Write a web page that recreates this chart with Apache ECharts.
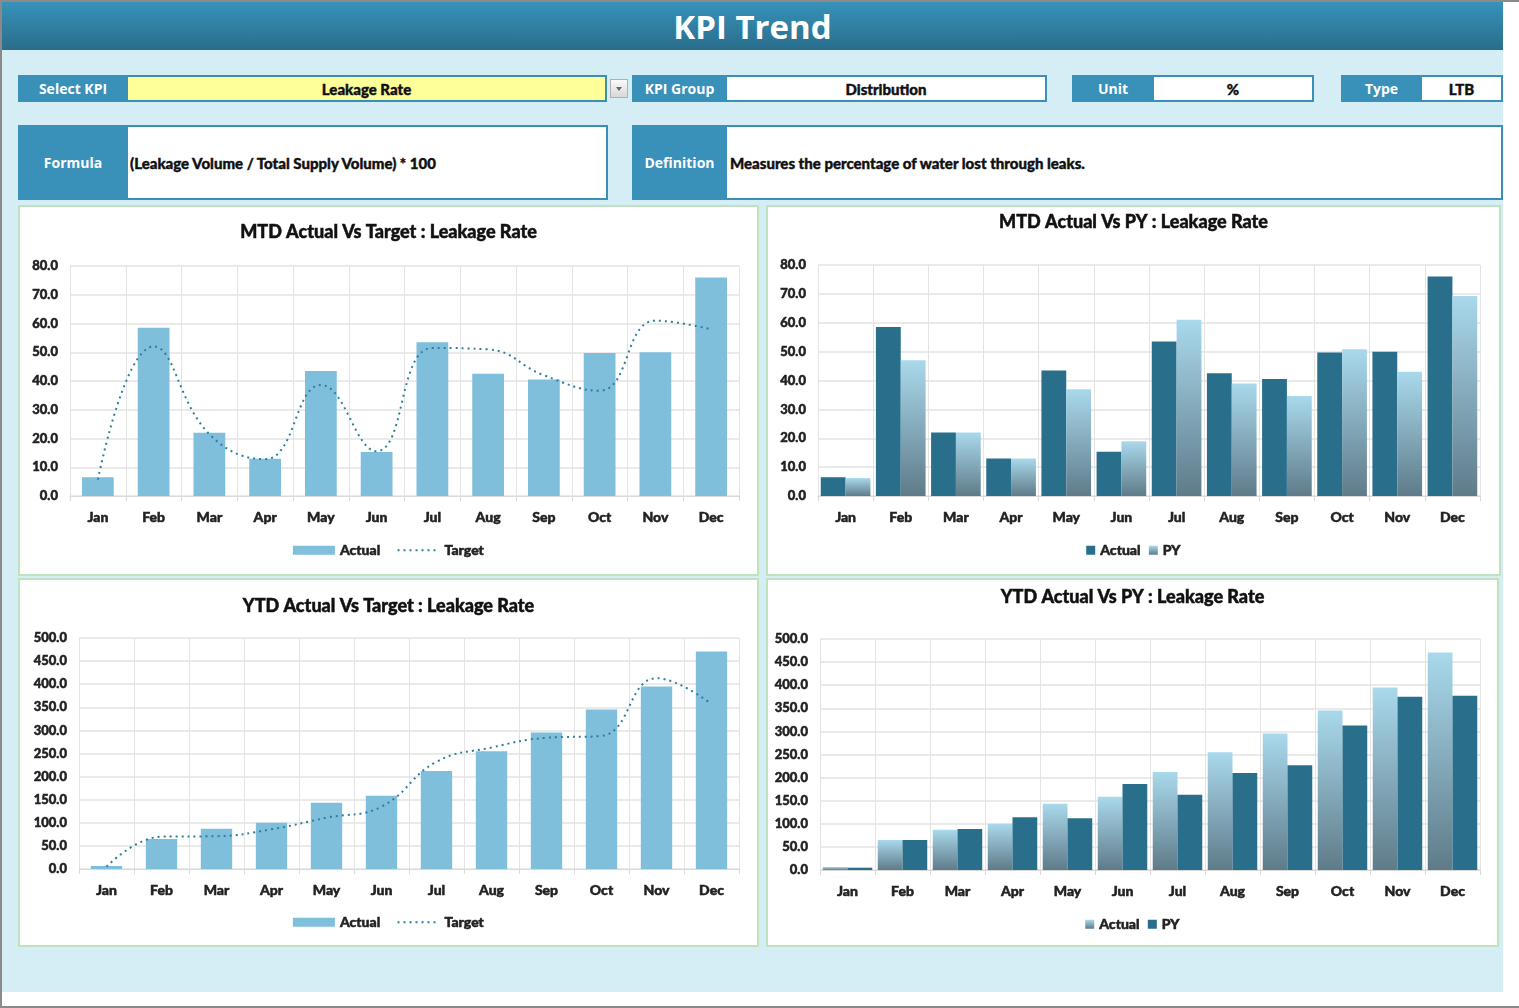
<!DOCTYPE html>
<html>
<head>
<meta charset="utf-8">
<script src="https://cdn.jsdelivr.net/npm/echarts@6/dist/echarts.min.js"></script>
<style>
  html, body { margin:0; padding:0; background:#ffffff; width:1519px; height:1008px; overflow:hidden; }
  #page { position:absolute; left:0; top:0; width:1519px; height:1008px; }
  #frame { position:absolute; left:2px; top:2px; width:1501px; height:990px; background:#d5edf5; }
  .edge { position:absolute; background:#8a8a8a; }
  #header { position:absolute; left:2px; top:2px; width:1501px; height:48px;
    background:linear-gradient(#3792ba, #2a6d8b); color:#fff; text-align:center;
    font-family:"Open Sans", "DejaVu Sans", sans-serif; font-weight:700; font-size:33px; line-height:50px; }
  .lab { position:absolute; background:#3990b9; color:#fff; font-family:"Open Sans", sans-serif; font-weight:700;
    font-size:14px; display:flex; align-items:center; justify-content:center; box-sizing:border-box; }
  .val { position:absolute; background:#fff; color:#111; font-family:Lato,"Liberation Sans",sans-serif; font-weight:900;
    -webkit-text-stroke:0.4px #111;
    font-size:15px; display:flex; align-items:center; justify-content:center; box-sizing:border-box; border:2px solid #3a8fb5; border-left:none; }
  .chart { position:absolute; background:#fff; border:2px solid #bfe3bf; box-sizing:border-box; }
  #dd { position:absolute; left:610px; top:79px; width:18px; height:19px; box-sizing:border-box;
    background:linear-gradient(#fafafa,#d8d8d8); border:1px solid #b0b0b0; }
  #dd:after { content:""; position:absolute; left:5px; top:7px; border-left:3px solid transparent; border-right:3px solid transparent; border-top:4px solid #666; }
</style>
</head>
<body>
<div id="page">
  <div id="frame"></div>
  <div class="edge" style="left:0;top:0;width:1519px;height:2px;"></div>
  <div class="edge" style="left:0;top:0;width:2px;height:1008px;"></div>
  <div class="edge" style="left:0;top:1006px;width:1519px;height:2px;"></div>
  <div id="header">KPI Trend</div>

  <div class="lab" style="left:18px;top:75px;width:110px;height:27px;">Select KPI</div>
  <div class="val" style="left:128px;top:75px;width:479px;height:27px;background:#ffff99;">Leakage Rate</div>
  <div id="dd"></div>
  <div class="lab" style="left:632px;top:75px;width:95px;height:27px;">KPI Group</div>
  <div class="val" style="left:727px;top:75px;width:320px;height:27px;">Distribution</div>
  <div class="lab" style="left:1072px;top:75px;width:82px;height:27px;">Unit</div>
  <div class="val" style="left:1154px;top:75px;width:160px;height:27px;">%</div>
  <div class="lab" style="left:1341px;top:75px;width:81px;height:27px;">Type</div>
  <div class="val" style="left:1422px;top:75px;width:81px;height:27px;">LTB</div>

  <div class="lab" style="left:18px;top:125px;width:110px;height:75px;">Formula</div>
  <div class="val" style="left:128px;top:125px;width:480px;height:75px;justify-content:flex-start;padding-left:2px;">(Leakage Volume / Total Supply Volume) * 100</div>
  <div class="lab" style="left:632px;top:125px;width:95px;height:75px;">Definition</div>
  <div class="val" style="left:727px;top:125px;width:776px;height:75px;justify-content:flex-start;padding-left:3px;">Measures the percentage of water lost through leaks.</div>

  <div id="c1" class="chart" style="left:18px;top:205px;width:741px;height:371px;"></div>
  <div id="c2" class="chart" style="left:766px;top:205px;width:735px;height:371px;"></div>
  <div id="c3" class="chart" style="left:18px;top:578px;width:741px;height:369px;"></div>
  <div id="c4" class="chart" style="left:766px;top:578px;width:733px;height:369px;"></div>
</div>
<script>
// ---- data ----
const months = ['Jan','Feb','Mar','Apr','May','Jun','Jul','Aug','Sep','Oct','Nov','Dec'];
const mtdActual = [6.5, 58.5, 22.0, 13.0, 43.5, 15.3, 53.5, 42.5, 40.5, 49.7, 50.0, 76.0];
const mtdTarget = [5.7, 52.0, 21.5, 12.8, 38.6, 15.6, 51.5, 51.0, 42.0, 36.6, 61.0, 58.0];
const mtdPY     = [6.2, 47.0, 22.0, 13.0, 37.0, 19.0, 61.0, 39.0, 34.6, 50.8, 43.0, 69.3];
const ytdActual = [6.5, 65.0, 87.0, 100.0, 143.5, 158.8, 212.3, 254.8, 295.3, 345.0, 395.0, 471.0];
const ytdTarget = [5.0, 70.0, 71.0, 86.0, 111.0, 135.0, 232.0, 263.0, 284.0, 288.0, 413.0, 357.0];
const ytdPY     = [5.0, 65.0, 88.5, 114.0, 112.0, 186.0, 163.0, 210.0, 227.0, 313.0, 375.0, 377.0];
const mtdTicks = {min:0, max:80, interval:10};
const ytdTicks = {min:0, max:500, interval:50};

// ---- styles ----
const FONT = 'Lato,"Liberation Sans",sans-serif';
const W = 900;
const STROKE = {textBorderColor:'#1a1a1a', textBorderWidth:0.5};
const DARK = '#296f8b';
const LIGHT = '#7fbfdc';
const grad = () => new echarts.graphic.LinearGradient(0,0,0,1,[{offset:0,color:'#a9d9ec'},{offset:1,color:'#5f7b89'}]);

function baseOpt(title, titleTop, grid, ticks, legendTop) {
  return {
    animation:false,
    textStyle:{fontFamily:FONT},
    title:{text:title, left:'center', top:titleTop,
      textStyle:Object.assign({fontFamily:FONT, fontWeight:W, fontSize:18, color:'#111'}, STROKE)},
    grid:grid,
    legend:{top:legendTop, left:'center', itemGap:16,
      textStyle:Object.assign({fontFamily:FONT, fontWeight:W, fontSize:14, color:'#222'}, STROKE)},
    xAxis:{type:'category', data:months,
      axisLine:{lineStyle:{color:'#d9d9d9', width:1}},
      axisTick:{show:true, length:5, lineStyle:{color:'#d9d9d9'}},
      splitLine:{show:true, lineStyle:{color:'#e3e3e3', width:1}},
      axisLabel:Object.assign({fontFamily:FONT, fontWeight:W, fontSize:14, color:'#222', margin:14}, STROKE)},
    yAxis:{type:'value', min:ticks.min, max:ticks.max, interval:ticks.interval,
      axisLine:{show:false}, axisTick:{show:false},
      splitLine:{lineStyle:{color:'#e3e3e3', width:1.5}},
      axisLabel:Object.assign({fontFamily:FONT, fontWeight:W, fontSize:13, color:'#222', margin:12,
        formatter:v=>v.toFixed(1)}, STROKE)},
    series:[]
  };
}

const targetLegend = {name:'Target', itemStyle:{opacity:0}};

// Chart 1: MTD Actual vs Target
const o1 = baseOpt('MTD Actual Vs Target : Leakage Rate', 11, {left:50,right:18,top:59,bottom:78}, mtdTicks, 331);
o1.legend.itemWidth = 42; o1.legend.itemHeight = 9;
o1.series = [
  {name:'Actual', type:'bar', data:mtdActual, barWidth:'57%', itemStyle:{color:LIGHT}},
  {name:'Target', type:'line', data:mtdTarget, smooth:0.45, symbol:'none',
    lineStyle:{color:'#2e7f9c', width:2, type:[2,4]}, itemStyle:{color:'#2e7f9c'}}
];
o1.legend.data = [{name:'Actual', icon:'rect'}, targetLegend];
echarts.init(document.getElementById('c1')).setOption(o1);

// Chart 2: MTD Actual vs PY
const o2 = baseOpt('MTD Actual Vs PY : Leakage Rate', 1, {left:50,right:19,top:58,bottom:78}, mtdTicks, 331);
o2.legend.itemWidth = 9; o2.legend.itemHeight = 9; o2.legend.itemGap = 8;
o2.series = [
  {name:'Actual', type:'bar', data:mtdActual, barGap:'0%', barCategoryGap:'10%', itemStyle:{color:DARK}},
  {name:'PY', type:'bar', data:mtdPY, itemStyle:{color:grad()}}
];
o2.legend.data = [{name:'Actual', icon:'rect'}, {name:'PY', icon:'rect'}];
echarts.init(document.getElementById('c2')).setOption(o2);

// Chart 3: YTD Actual vs Target
const o3 = baseOpt('YTD Actual Vs Target : Leakage Rate', 12, {left:59,right:18,top:58,bottom:76}, ytdTicks, 330);
o3.legend.itemWidth = 42; o3.legend.itemHeight = 9;
o3.series = [
  {name:'Actual', type:'bar', data:ytdActual, barWidth:'57%', itemStyle:{color:LIGHT}},
  {name:'Target', type:'line', data:ytdTarget, smooth:0.45, symbol:'none',
    lineStyle:{color:'#2e7f9c', width:2, type:[2,4]}, itemStyle:{color:'#2e7f9c'}}
];
o3.legend.data = [{name:'Actual', icon:'rect'}, targetLegend];
echarts.init(document.getElementById('c3')).setOption(o3);

// Chart 4: YTD Actual vs PY
const o4 = baseOpt('YTD Actual Vs PY : Leakage Rate', 3, {left:52,right:17,top:59,bottom:75}, ytdTicks, 332);
o4.legend.itemWidth = 9; o4.legend.itemHeight = 9; o4.legend.itemGap = 8;
o4.series = [
  {name:'Actual', type:'bar', data:ytdActual, barGap:'0%', barCategoryGap:'10%', itemStyle:{color:grad()}},
  {name:'PY', type:'bar', data:ytdPY, itemStyle:{color:DARK}}
];
o4.legend.data = [{name:'Actual', icon:'rect'}, {name:'PY', icon:'rect'}];
echarts.init(document.getElementById('c4')).setOption(o4);
</script>
</body>
</html>
